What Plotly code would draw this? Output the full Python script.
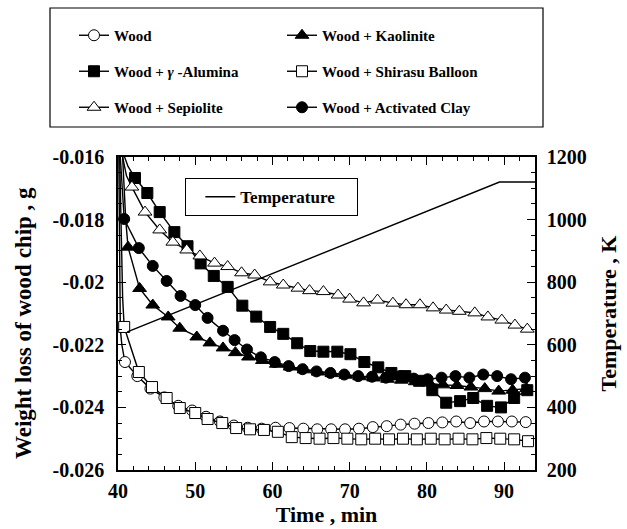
import plotly.graph_objects as go

# ---------------- data ----------------
time_ticks = [40, 50, 60, 70, 80, 90]
w_tickvals = [-0.016, -0.018, -0.020, -0.022, -0.024, -0.026]
w_ticktext = ["-0.016", "-0.018", "-0.02", "-0.022", "-0.024", "-0.026"]
temp_ticks = [200, 400, 600, 800, 1000, 1200]

# steep initial segments (drawn as line only)
wood_head_t = [40.1, 40.3, 40.5]
wood_head_w = [-0.0158, -0.0215, -0.0220]
alumina_head_t = [40.7, 41.3]
alumina_head_w = [-0.0159, -0.0163]
sepiolite_head_t = [40.6, 41.1]
sepiolite_head_w = [-0.0160, -0.0166]
kaolinite_head_t = [40.6, 41.0]
kaolinite_head_w = [-0.0160, -0.0180]
shirasu_head_t = [40.2, 40.6]
shirasu_head_w = [-0.0158, -0.0205]
clay_head_t = [40.25, 40.5]
clay_head_w = [-0.0158, -0.0170]

wood_t = [40.9, 42.5, 44.2, 46.0, 47.8, 49.6, 51.4, 53.2, 55.0, 56.8, 58.6, 60.4, 62.2, 64.0, 65.8,
          67.6, 69.4, 71.2, 73.0, 74.8, 76.6, 78.4, 80.2, 82.0, 83.8, 85.6, 87.4, 89.2, 91.0, 92.8]
wood_w = [-0.02255, -0.02300, -0.02340, -0.02368, -0.02395, -0.02410, -0.02430, -0.02445, -0.02458,
          -0.02465, -0.02468, -0.02465, -0.02466, -0.02468, -0.02470, -0.02470, -0.02470, -0.02468,
          -0.02463, -0.02460, -0.02455, -0.02452, -0.02450, -0.02448, -0.02445, -0.02450, -0.02445,
          -0.02445, -0.02445, -0.02447]

alumina_t = [42.2, 43.8, 45.4, 47.3, 49.0, 50.7, 52.4, 54.2, 56.1, 57.9, 59.7, 61.4, 63.2, 64.9, 66.6,
             68.4, 70.1, 71.9, 73.7, 75.4, 77.2, 79.0, 80.7, 82.5, 84.3, 86.0, 87.8, 89.6, 91.3, 93.0]
alumina_w = [-0.01667, -0.01715, -0.01776, -0.01840, -0.01885, -0.01940, -0.01980, -0.02015, -0.02075,
             -0.02110, -0.02143, -0.02165, -0.02195, -0.02220, -0.02222, -0.02222, -0.02230, -0.02255,
             -0.02272, -0.02290, -0.02300, -0.02315, -0.02345, -0.02385, -0.02380, -0.02370, -0.02395,
             -0.02400, -0.02370, -0.02345]

sepiolite_t = [41.8, 43.5, 45.4, 47.1, 48.9, 50.6, 52.5, 54.2, 56.0, 57.7, 59.7, 61.4, 63.3, 64.8, 66.6,
               68.5, 70.0, 71.8, 73.6, 75.6, 77.3, 79.1, 80.8, 82.5, 84.2, 86.2, 87.9, 89.7, 91.4, 93.0]
sepiolite_w = [-0.01696, -0.01776, -0.01833, -0.01872, -0.01897, -0.01916, -0.01939, -0.01950, -0.01970,
               -0.01977, -0.01999, -0.02009, -0.02019, -0.02027, -0.02030, -0.02041, -0.02054, -0.02066,
               -0.02057, -0.02067, -0.02072, -0.02072, -0.02082, -0.02089, -0.02093, -0.02098, -0.02111,
               -0.02121, -0.02137, -0.02150]

kaolinite_t = [41.3, 42.8, 44.5, 46.5, 48.0, 50.2, 51.9, 53.6, 55.2, 56.9, 58.7, 60.5, 62.3, 64.1, 65.9,
               67.7, 69.5, 71.3, 73.1, 74.9, 76.7, 78.5, 80.3, 82.1, 83.9, 85.7, 87.5, 89.3, 91.1, 92.9]
kaolinite_w = [-0.01888, -0.02020, -0.02073, -0.02111, -0.02147, -0.02175, -0.02194, -0.02210, -0.02225,
               -0.02239, -0.02250, -0.02262, -0.02271, -0.02280, -0.02287, -0.02292, -0.02297, -0.02302,
               -0.02306, -0.02310, -0.02313, -0.02318, -0.02322, -0.02328, -0.02330, -0.02335, -0.02340,
               -0.02348, -0.02345, -0.02340]

shirasu_t = [40.8, 42.7, 44.4, 46.3, 48.0, 50.0, 51.6, 53.5, 55.3, 57.1, 58.9, 60.7, 62.5, 64.3, 66.1,
             67.9, 69.7, 71.5, 73.3, 75.1, 76.9, 78.7, 80.5, 82.3, 84.1, 85.9, 87.7, 89.5, 91.3, 93.1]
shirasu_w = [-0.02143, -0.02287, -0.02335, -0.02370, -0.02402, -0.02418, -0.02437, -0.02450, -0.02466,
             -0.02470, -0.02472, -0.02478, -0.02495, -0.02498, -0.02500, -0.02498, -0.02500, -0.02502,
             -0.02500, -0.02502, -0.02500, -0.02502, -0.02500, -0.02502, -0.02500, -0.02502, -0.02498,
             -0.02500, -0.02502, -0.02508]

clay_t = [40.8, 42.7, 44.5, 46.3, 48.1, 50.0, 51.6, 53.6, 55.1, 56.7, 58.5, 60.3, 62.1, 63.9, 65.7,
          67.5, 69.3, 71.1, 72.9, 74.7, 76.5, 78.3, 80.1, 81.9, 83.7, 85.5, 87.3, 89.1, 90.9, 92.7]
clay_w = [-0.01798, -0.01891, -0.01948, -0.01996, -0.02044, -0.02073, -0.02114, -0.02155, -0.02185,
          -0.02215, -0.02240, -0.02255, -0.02268, -0.02278, -0.02285, -0.02290, -0.02295, -0.02300,
          -0.02302, -0.02305, -0.02300, -0.02308, -0.02310, -0.02305, -0.02300, -0.02305, -0.02295,
          -0.02300, -0.02310, -0.02305]

temp_t = [41.2, 50, 60, 70, 80, 89.4, 94]
temp_k = [641, 728, 828, 927, 1026, 1120, 1120]

# ---------------- figure ----------------
FONT = "Liberation Serif"
fig = go.Figure()

series = [
    ("Wood", wood_head_t, wood_head_w, wood_t, wood_w, "circle", "white", 11, "legend"),
    ("Wood + <i>γ</i> -Alumina", alumina_head_t, alumina_head_w, alumina_t, alumina_w, "square", "black", 11, "legend"),
    ("Wood + Sepiolite", sepiolite_head_t, sepiolite_head_w, sepiolite_t, sepiolite_w, "triangle-up", "white", 12, "legend"),
    ("Wood + Kaolinite", kaolinite_head_t, kaolinite_head_w, kaolinite_t, kaolinite_w, "triangle-up", "black", 12, "legend3"),
    ("Wood + Shirasu Balloon", shirasu_head_t, shirasu_head_w, shirasu_t, shirasu_w, "square", "white", 11, "legend3"),
    ("Wood + Activated Clay", clay_head_t, clay_head_w, clay_t, clay_w, "circle", "black", 11, "legend3"),
]

for name, ht, hw, t, w, sym, fill, size, lg in series:
    fig.add_trace(go.Scatter(x=ht + t[:1], y=hw + w[:1], mode="lines",
                             line=dict(color="black", width=1.4),
                             showlegend=False, hoverinfo="skip"))

fig.add_trace(go.Scatter(x=temp_t, y=temp_k, mode="lines", name="Temperature\u00a0\u00a0\u00a0\u00a0",
                         line=dict(color="black", width=1.4), yaxis="y2", legend="legend2"))

for i, (name, ht, hw, t, w, sym, fill, size, lg) in enumerate(series):
    fig.add_trace(go.Scatter(x=t, y=w, mode="lines+markers", name=name,
                             line=dict(color="black", width=1.4),
                             marker=dict(symbol=sym, size=size, color=fill,
                                         line=dict(color="black", width=1)),
                             legend=lg, legendgroup="g%d" % i))

x_minor = [40 + 2 * k for k in range(28)]
y_minor = [-0.026 + 0.0005 * k for k in range(21)]
t_minor = [200 + 50 * k for k in range(21)]

def minor(vals):
    return dict(tickmode="array", tickvals=vals, ticks="inside", ticklen=4,
                tickcolor="black", tickwidth=1.2, showgrid=False)

axis_common = dict(showline=True, linecolor="black", linewidth=1.5, ticks="inside",
                   tickcolor="black", tickwidth=1.2, ticklen=8, showgrid=False, zeroline=False,
                   tickmode="array")

fig.update_layout(
    width=627, height=529,
    margin=dict(l=118, r=92, t=157, b=59, autoexpand=False),
    paper_bgcolor="white", plot_bgcolor="white",
    font=dict(family=FONT, size=20, color="black", weight="bold"),
    xaxis=dict(range=[40, 94], tickvals=time_ticks, mirror="ticks", minor=minor(x_minor),
               ticklabelstandoff=2,
               title=dict(text="Time , min", font=dict(size=22), standoff=2),
               **axis_common),
    yaxis=dict(range=[-0.026, -0.016], tickvals=w_tickvals, ticktext=w_ticktext, minor=minor(y_minor),
               ticklabelstandoff=8,
               **axis_common),
    yaxis2=dict(range=[200, 1200], tickvals=temp_ticks, overlaying="y", side="right", minor=minor(t_minor),
                ticklabelstandoff=6,
                title=dict(text="Temperature , K", font=dict(size=22)),
                **axis_common),
    legend=dict(x=74 / 627, y=1 - 19 / 529, xref="container", yref="container",
                xanchor="left", yanchor="top", bgcolor="rgba(0,0,0,0)", borderwidth=0,
                font=dict(family=FONT, size=15, color="black", weight="bold"),
                tracegroupgap=13.5, orientation="v"),
    legend3=dict(x=282 / 627, y=1 - 19 / 529, xref="container", yref="container",
                 xanchor="left", yanchor="top", bgcolor="rgba(0,0,0,0)", borderwidth=0,
                 font=dict(family=FONT, size=15, color="black", weight="bold"),
                 tracegroupgap=13.5, orientation="v"),
    legend2=dict(x=0.161, y=0.933, xanchor="left", yanchor="top", indentation=14,
                 bgcolor="white", bordercolor="black", borderwidth=1.2,
                 font=dict(family=FONT, size=17, color="black", weight="bold")),
    shapes=[dict(type="rect", xref="paper", yref="paper",
                 x0=(50 - 118) / 417, x1=(543 - 118) / 417,
                 y0=(470 - 127) / 313, y1=(470 - 8) / 313,
                 line=dict(color="black", width=1.2), fillcolor="rgba(0,0,0,0)")],
    annotations=[dict(text="Weight loss of wood chip , g", textangle=-90, showarrow=False,
                      xref="paper", yref="paper", x=(23 - 118) / 417, y=(470 - 323) / 313,
                      xanchor="center", yanchor="middle", font=dict(size=23))],
)

fig.write_html("out.html")
